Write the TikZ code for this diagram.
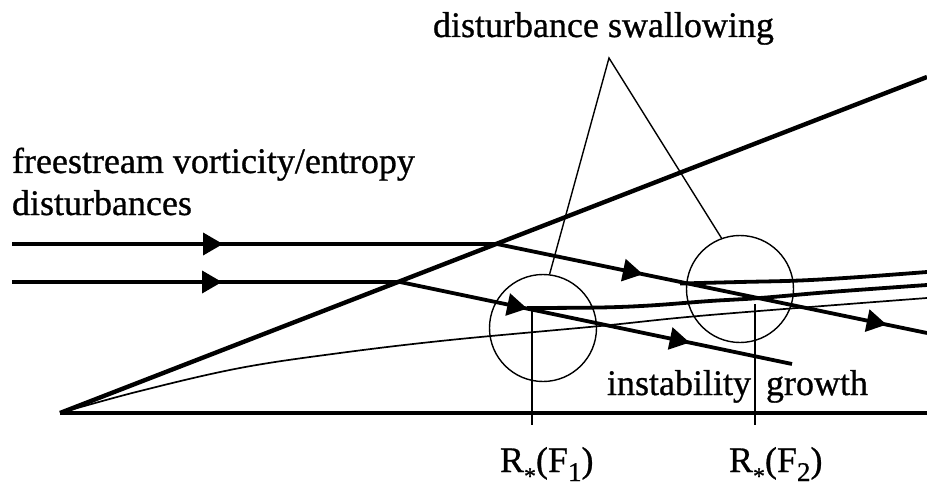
\documentclass[tikz,border=0pt]{standalone}
\usepackage{fontspec}
\setmainfont{Liberation Serif}
\newfontfamily\scanfont[FakeBold=0.8]{Liberation Serif}
\usetikzlibrary{arrows.meta,decorations.markings}
\newcommand{\subast}{\raisebox{-12pt}{\fontsize{24}{24}\selectfont *}}
\newcommand{\subdig}[1]{\raisebox{-9pt}{\fontsize{27}{27}\selectfont #1}}
\tikzset{
  lbl/.style={font=\scanfont\fontsize{36}{42}\selectfont, inner sep=0pt, outer sep=0pt},
  thickln/.style={line width=3.8pt, line join=round},
  shockln/.style={line width=4.4pt},
  wallln/.style={line width=3.2pt},
  thinln/.style={line width=1.7pt},
  hair/.style={line width=1.4pt},
  ring/.style={circle, draw, line width=1.4pt, minimum size=107pt, inner sep=0pt},
  upperstream/.style={thickln, postaction={decorate}, decoration={markings,
    mark=at position 211pt with {\arrow{Triangle[length=20pt,width=22pt]}},
    mark=at position 634pt with {\arrow{Triangle[length=20pt,width=22pt]}},
    mark=at position 883pt with {\arrow{Triangle[length=20pt,width=22pt]}}}},
  lowerstream/.style={thickln, postaction={decorate}, decoration={markings,
    mark=at position 210pt with {\arrow{Triangle[length=20pt,width=22pt]}},
    mark=at position 518pt with {\arrow{Triangle[length=20pt,width=22pt]}},
    mark=at position 684pt with {\arrow{Triangle[length=20pt,width=22pt]}}}}
}
\begin{document}
\begin{tikzpicture}[x=1pt,y=-1pt]
\useasboundingbox (0,0) rectangle (927,492);
% key points
\coordinate (le) at (60,413);
\coordinate (we) at (927,413);
\coordinate (sh) at (927,77);
\coordinate (u0) at (12,244);
\coordinate (u1) at (497,244);
\coordinate (u2) at (927,333);
\coordinate (l0) at (12,282);
\coordinate (l1) at (400,282);
\coordinate (l2) at (792,364);
\coordinate (v1t) at (532,311);
\coordinate (v1b) at (532,425);
\coordinate (v2t) at (755,304);
\coordinate (v2b) at (755,425);
\coordinate (apex) at (609,58);

% wall and shock
\draw[wallln] (le) -- (we);
\draw[shockln] (le) -- (sh);

% boundary-layer edge (thin)
\draw[thinln] plot[smooth, tension=0.6] coordinates {(60,413) (140,391) (240,368) (340,353) (450,340) (600,326) (710,315) (927,298)};

% swallowed disturbance curves
\draw[thickln] plot[smooth, tension=0.6] coordinates {(527,308) (600,307.5) (650,305.5) (710,301) (760,298) (830,292) (927,285)};
\draw[thickln] plot[smooth, tension=0.6] coordinates {(680,283.5) (740,282) (800,280.5) (860,277) (927,272)};

% freestream disturbance streams
\draw[upperstream] (u0) -- (u1) -- (u2);
\draw[lowerstream] (l0) -- (l1) -- (l2);

% circles
\node[ring] (c1) at (543,328) {};
\node[ring] (c2) at (740,289) {};

% verticals
\draw[thinln] (v1t) -- (v1b);
\draw[thinln] (v2t) -- (v2b);

% pointer
\draw[hair] (c1.83) -- (apex) -- (c2.110);

% labels
\node[lbl, anchor=base west] (sw) at (433,37) {disturbance swallowing};
\node[lbl, anchor=base west] (fs) at (12,173) {freestream vorticity/entropy};
\node[lbl, anchor=base west] (ds) at (12,215) {disturbances};
\node[lbl, anchor=base west] (ig1) at (607,395) {instability};
\node[lbl, anchor=base west] (ig2) at (766,395) {growth};
\node[lbl, anchor=base west] (r1) at (500,472) {R\subast(F\subdig{1})};
\node[lbl, anchor=base west] (r2) at (729,472) {R\subast(F\subdig{2})};
\end{tikzpicture}
\end{document}
